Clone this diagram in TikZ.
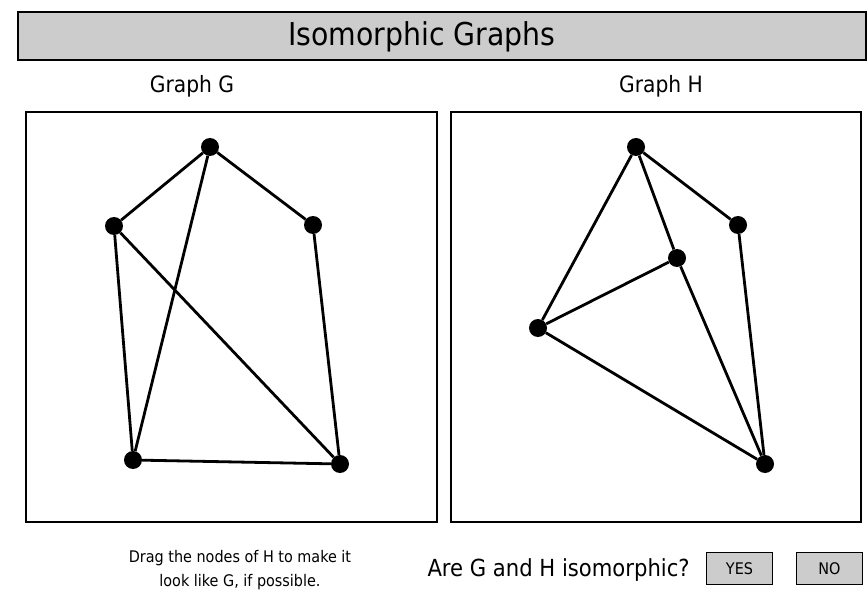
\documentclass[tikz,border=0pt]{standalone}
\usepackage{fontspec}
\setmainfont{DejaVu Sans Condensed}
\usepackage{tikz}
\definecolor{bargray}{RGB}{204,204,204}
\tikzset{
  vertex/.style={circle,fill=black,inner sep=0pt,minimum size=18pt},
  edge/.style={line width=2.8pt},
  panel/.style={draw,line width=2.8pt},
  button/.style={draw,line width=1.3pt,fill=bargray,minimum width=66pt,minimum height=32pt,font=\fontsize{16}{18}\selectfont}
}

\begin{document}
\begin{tikzpicture}[x=1pt,y=-1pt]
    \useasboundingbox (0,0) rectangle (868,596);

    % Title bar
    \draw[line width=2.8pt,fill=bargray] (18,12) rectangle (866,60);
    \node (title) at (422,37) {\fontsize{31.5}{34}\selectfont Isomorphic Graphs};

    % Panels
    \draw[panel] (26,112) rectangle (437,522);
    \draw[panel] (451,112) rectangle (861,522);
    \node (labelG) at (192,86) {\fontsize{22.5}{24}\selectfont Graph G};
    \node (labelH) at (661,86) {\fontsize{22.5}{24}\selectfont Graph H};

    % Graph G
    \node[vertex] (g1) at (210,147) {};
    \node[vertex] (g2) at (114,226) {};
    \node[vertex] (g3) at (313,225) {};
    \node[vertex] (g4) at (133,460) {};
    \node[vertex] (g5) at (340,464) {};
    \draw[edge] (g1) -- (g2);
    \draw[edge] (g1) -- (g3);
    \draw[edge] (g1) -- (g4);
    \draw[edge] (g2) -- (g4);
    \draw[edge] (g2) -- (g5);
    \draw[edge] (g3) -- (g5);
    \draw[edge] (g4) -- (g5);

    % Graph H
    \node[vertex] (h1) at (636,147) {};
    \node[vertex] (h2) at (738,225) {};
    \node[vertex] (h3) at (677,258) {};
    \node[vertex] (h4) at (538,328) {};
    \node[vertex] (h5) at (765,464) {};
    \draw[edge] (h1) -- (h4);
    \draw[edge] (h1) -- (h3);
    \draw[edge] (h1) -- (h2);
    \draw[edge] (h3) -- (h4);
    \draw[edge] (h3) -- (h5);
    \draw[edge] (h2) -- (h5);
    \draw[edge] (h4) -- (h5);

    % Bottom row
    \node[align=center,font=\fontsize{16}{24}\selectfont] (hint) at (240,570)
        {Drag the nodes of H to make it\\look like G, if possible.};
    \node[anchor=west] (question) at (424,570) {\fontsize{23.5}{26}\selectfont Are G and H isomorphic?};
    \node[button] (yes) at (739.5,568.5) {YES};
    \node[button] (no) at (829.5,568.5) {NO};
\end{tikzpicture}
\end{document}
